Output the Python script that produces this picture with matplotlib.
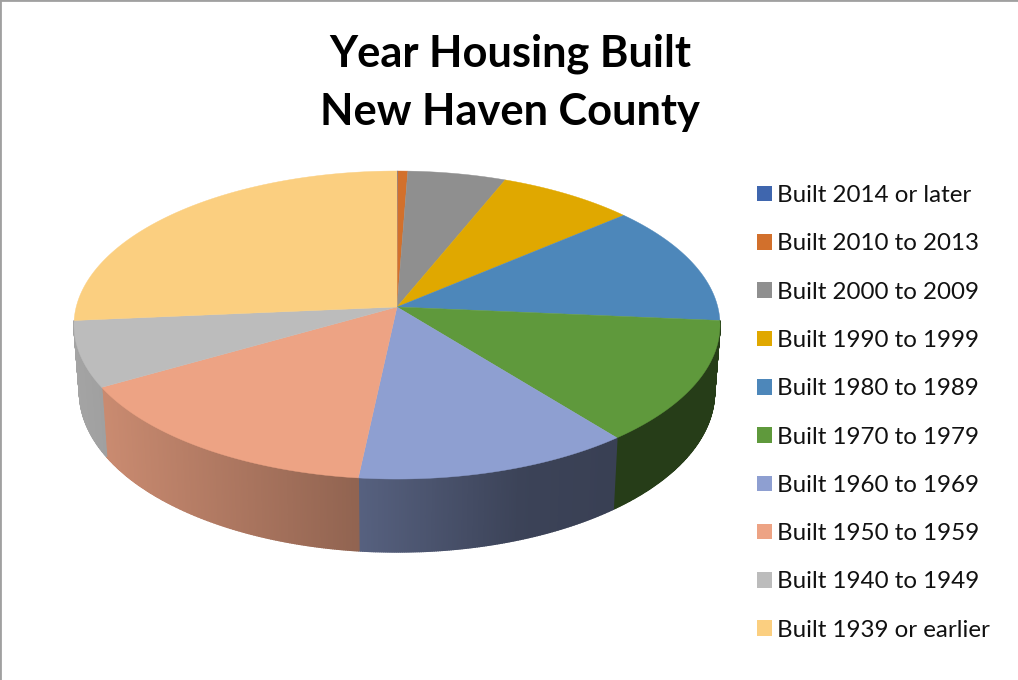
import numpy as np
import matplotlib
matplotlib.use("Agg")
import matplotlib.pyplot as plt
from matplotlib.patches import Patch

plt.rcParams['font.family'] = ['Lato', 'DejaVu Sans']

# dane
kategorie = ["Built 2014 or later", "Built 2010 to 2013", "Built 2000 to 2009",
             "Built 1990 to 1999", "Built 1980 to 1989", "Built 1970 to 1979",
             "Built 1960 to 1969", "Built 1950 to 1959", "Built 1940 to 1949",
             "Built 1939 or earlier"]
wartosci = [0.05, 0.55, 5.5, 7.65, 12.65, 12.9, 12.4, 15.0, 6.9, 26.4]
kolory = ["#3f66ae", "#d2702c", "#8f8f8f", "#e0a800", "#4d87ba",
          "#5f993c", "#8e9fd1", "#eda384", "#bcbcbc", "#fbcf80"]
tytul = "Year Housing Built\nNew Haven County"

# geometria rzutu perspektywicznego (piksele obrazka)
CX, CY = 397, 307
A, K, R = 151.9, 0.117, 320.8


def rzut(theta):
    u, v = np.sin(theta), np.cos(theta)
    w = 1 + K * v
    return CX + R * u / w, CY - A * v / w


def rzut_dol(theta):
    x, y = rzut(theta)
    v = np.cos(theta)
    return CX + (x - CX) * 0.983, y + 66 + 7 * np.clip(-v, 0, 1)


def cien(x):
    return np.interp(x, [75, 103, 358, 520, 620, 720],
                     [0.87, 0.85, 0.61, 0.42, 0.40, 0.40])


fig = plt.figure(figsize=(10.18, 6.8), dpi=100)
ax = fig.add_axes([0, 0, 1, 1])
ax.set_xlim(0, 1018)
ax.set_ylim(680, 0)
ax.set_xticks([])
ax.set_yticks([])
for s in ['right', 'bottom']:
    ax.spines[s].set_visible(False)
for s in ['top', 'left']:
    ax.spines[s].set_color("#a0a0a0")
    ax.spines[s].set_linewidth(2)

granice = np.cumsum([0] + wartosci) / np.sum(wartosci) * 2 * np.pi

# boczna sciana (tylko przod)
for i, kolor in enumerate(kolory):
    t = np.linspace(granice[i], granice[i + 1], max(3, int(wartosci[i] * 12)))
    rgb = np.array(matplotlib.colors.to_rgb(kolor))
    for a, b in zip(t[:-1], t[1:]):
        if np.cos((a + b) / 2) > -0.09:
            continue
        x1, y1 = rzut(a)
        x2, y2 = rzut(b)
        x3, y3 = rzut_dol(b)
        x4, y4 = rzut_dol(a)
        c = rgb * cien((x1 + x2) / 2)
        ax.fill([x1, x2, x3, x4], [y1, y2, y3, y4], color=c, lw=1.0, zorder=2)

# gora
for i, kolor in enumerate(kolory):
    t = np.linspace(granice[i], granice[i + 1], max(3, int(wartosci[i] * 12)))
    x, y = rzut(t)
    ax.fill(np.r_[CX, x], np.r_[CY, y], color=kolor, lw=0.3, zorder=3)

ax.text(510, 83, tytul, ha='center', va='center', fontsize=31.2,
        fontweight='bold', linespacing=1.55, color='black')

uchwyty = [Patch(facecolor=k, edgecolor='none') for k in kolory]
ax.legend(uchwyty, kategorie, loc='upper left', bbox_to_anchor=(757 / 1018, 1 - 185 / 680),
          frameon=False, fontsize=17.4, labelspacing=1.13, handlelength=0.62,
          handleheight=0.62, handletextpad=0.19, borderpad=0, borderaxespad=0,
          labelcolor='#111111')

fig.savefig("out.png", dpi=100)
